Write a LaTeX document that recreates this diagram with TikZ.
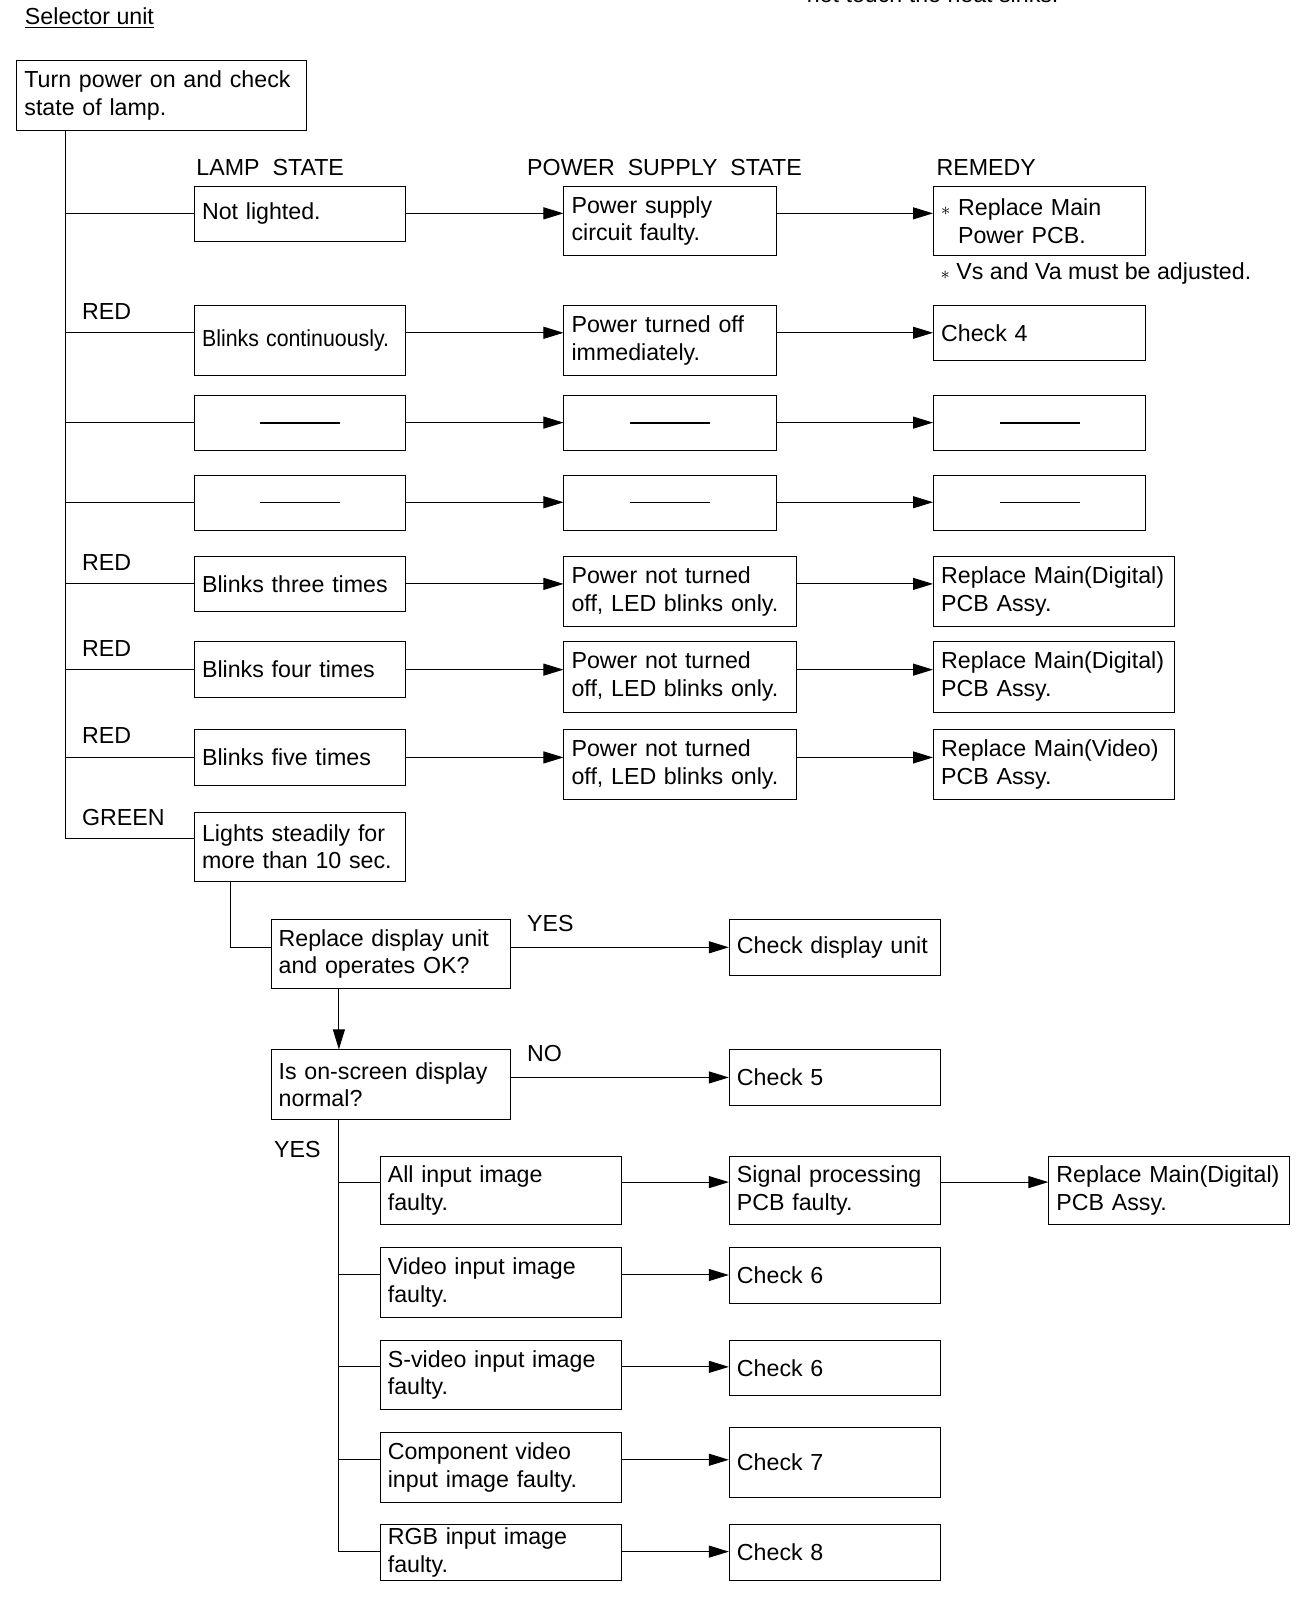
\documentclass[tikz,border=0pt]{standalone}
\usepackage{fontspec}
\setmainfont{Liberation Sans}
\usetikzlibrary{arrows.meta}

\begin{document}
\begin{tikzpicture}[x=0.5104pt,y=-0.5104pt,line width=0.5pt,font=\fontsize{11.6}{13.8}\selectfont]
	\tikzset{box/.style 2 args={draw,anchor=north west,align=left,inner xsep=3.8pt,inner ysep=0pt,
		minimum width={#1*0.5104pt},text width={#1*0.5104pt-7.6pt},minimum height={#2*0.5104pt}}}
	\tikzset{dashbox/.style 2 args={draw,anchor=north west,inner sep=0pt,
		minimum width={#1*0.5104pt},minimum height={#2*0.5104pt}}}
	\tikzstyle{lbl}=[inner sep=0pt,anchor=west];
	\tikzstyle{arr}=[-{Triangle[length=10pt,width=6pt]}];
	\useasboundingbox (0,0) rectangle (1284.3,1567.4);
	%% Headings
	\node[lbl,anchor=base west] (heat) at (790,2) {not touch the heat sinks.};
	\node[lbl] (title) at (24,18) {\underline{Selector unit}};
	\node[lbl] (hlamp) at (192,164) {LAMP\ \ STATE};
	\node[lbl] (hpower) at (516,164) {POWER\ \ SUPPLY\ \ STATE};
	\node[lbl] (hremedy) at (917,164) {REMEDY};
	%% Start
	\node[box={284}{68}] (start) at (16,59) {Turn power on and check\\state of lamp.};
	%% Lamp state
	\node[box={207}{54}] (L1) at (190,182) {Not lighted.};
	\node[box={207}{68}] (L2) at (190,299) {\scalebox{0.92}[1]{Blinks continuously.}};
	\node[dashbox={207}{54}] (L3) at (190,387) {\rule{40pt}{1pt}};
	\node[dashbox={207}{54}] (L4) at (190,465) {\rule{40pt}{0.5pt}};
	\node[box={207}{54}] (L5) at (190,545) {Blinks three times};
	\node[box={207}{55}] (L6) at (190,628) {Blinks four times};
	\node[box={207}{55}] (L7) at (190,714) {Blinks five times};
	\node[box={207}{68}] (L8) at (190,795) {Lights steadily for\\more than 10 sec.};
	%% Power supply state
	\node[box={208}{68}] (P1) at (552,182) {Power supply\\circuit faulty.};
	\node[box={208}{68}] (P2) at (552,299) {Power turned off\\immediately.};
	\node[dashbox={208}{54}] (P3) at (552,387) {\rule{40pt}{1pt}};
	\node[dashbox={208}{54}] (P4) at (552,465) {\rule{40pt}{0.5pt}};
	\node[box={228}{68}] (P5) at (552,545) {Power not turned\\off, LED blinks only.};
	\node[box={228}{69}] (P6) at (552,628) {Power not turned\\off, LED blinks only.};
	\node[box={228}{69}] (P7) at (552,714) {Power not turned\\off, LED blinks only.};
	%% Remedy
	\node[box={208}{68}] (R1) at (914,182)
		{{\small$\ast$}~Replace Main\\\hphantom{{\small$\ast$}~}Power PCB.};
	\node[box={208}{54}] (R2) at (914,299) {Check 4};
	\node[dashbox={208}{54}] (R3) at (914,387) {\rule{40pt}{1pt}};
	\node[dashbox={208}{54}] (R4) at (914,465) {\rule{40pt}{0.5pt}};
	\node[box={236}{68}] (R5) at (914,545) {Replace Main(Digital)\\PCB Assy.};
	\node[box={236}{69}] (R6) at (914,628) {Replace Main(Digital)\\PCB Assy.};
	\node[box={236}{69}] (R7) at (914,714) {Replace Main(Video)\\PCB Assy.};
	\node[lbl] (note) at (921,268) {{\small$\ast$}~Vs and Va must be adjusted.};
	%% Lamp colours
	\node[lbl] (red2) at (80,305) {RED};
	\node[lbl] (red5) at (80,551) {RED};
	\node[lbl] (red6) at (80,635) {RED};
	\node[lbl] (red7) at (80,721) {RED};
	\node[lbl] (green) at (80,801) {GREEN};
	%% Rows
	\coordinate (trunk) at (64,0);
	\coordinate (r1) at (0,209);
	\coordinate (r2) at (0,326);
	\coordinate (r3) at (0,414);
	\coordinate (r4) at (0,492);
	\coordinate (r5) at (0,572);
	\coordinate (r6) at (0,656);
	\coordinate (r7) at (0,742);
	\coordinate (r8) at (0,821);
	\draw (start.south -| trunk) |- (L8.west |- r8);
	\foreach \n in {1,...,7}{
		\draw (trunk |- r\n) -- (L\n.west |- r\n);
		\draw[arr] (L\n.east |- r\n) -- (P\n.west |- r\n);
		\draw[arr] (P\n.east |- r\n) -- (R\n.west |- r\n);
	}
	%% Green lamp
	\node[box={235}{68}] (Q1) at (265,900) {Replace display unit\\and operates OK?};
	\node[box={207}{55}] (D1) at (714,900) {Check display unit};
	\node[box={235}{68}] (Q2) at (265,1028) {Is on-screen display\\normal?};
	\node[box={207}{54}] (C5) at (714,1028) {Check 5};
	\node[lbl] (yes1) at (516,905) {YES};
	\node[lbl] (no) at (516,1032) {NO};
	\node[lbl] (yes2) at (268,1126) {YES};
	\coordinate (turn) at (226,0);
	\coordinate (spine) at (332,0);
	\coordinate (q1) at (0,928);
	\draw (L8.south -| turn) |- (Q1.west |- q1);
	\draw[arr] (Q1.east |- q1) -- (D1.west |- q1);
	\draw[arr] (Q1.south -| spine) -- (Q2.north -| spine);
	\draw[arr] (Q2.east |- C5.west) -- (C5.west);
	%% Input image
	\node[box={236}{67}] (S1) at (372,1132) {All input image\\faulty.};
	\node[box={236}{68}] (S2) at (372,1222) {Video input image\\faulty.};
	\node[box={236}{67}] (S3) at (372,1313) {S-video input image\\faulty.};
	\node[box={236}{68}] (S4) at (372,1403) {Component video\\input image faulty.};
	\node[box={236}{55}] (S5) at (372,1493) {RGB input image\\faulty.};
	\node[box={207}{67}] (T1) at (714,1132) {Signal processing\\PCB faulty.};
	\node[box={207}{54}] (T2) at (714,1222) {Check 6};
	\node[box={207}{54}] (T3) at (714,1313) {Check 6};
	\node[box={207}{68}] (T4) at (714,1398) {Check 7};
	\node[box={207}{55}] (T5) at (714,1493) {Check 8};
	\node[box={236}{67}] (U1) at (1027,1132) {Replace Main(Digital)\\PCB Assy.};
	\coordinate (b1) at (0,1158);
	\coordinate (b2) at (0,1249);
	\coordinate (b3) at (0,1339);
	\coordinate (b4) at (0,1430);
	\coordinate (b5) at (0,1520);
	\draw (Q2.south -| spine) -- (spine |- b5);
	\foreach \n in {1,...,5}{
		\draw (spine |- b\n) -- (S\n.west |- b\n);
		\draw[arr] (S\n.east |- b\n) -- (T\n.west |- b\n);
	}
	\draw[arr] (T1.east |- b1) -- (U1.west |- b1);
\end{tikzpicture}
\end{document}
